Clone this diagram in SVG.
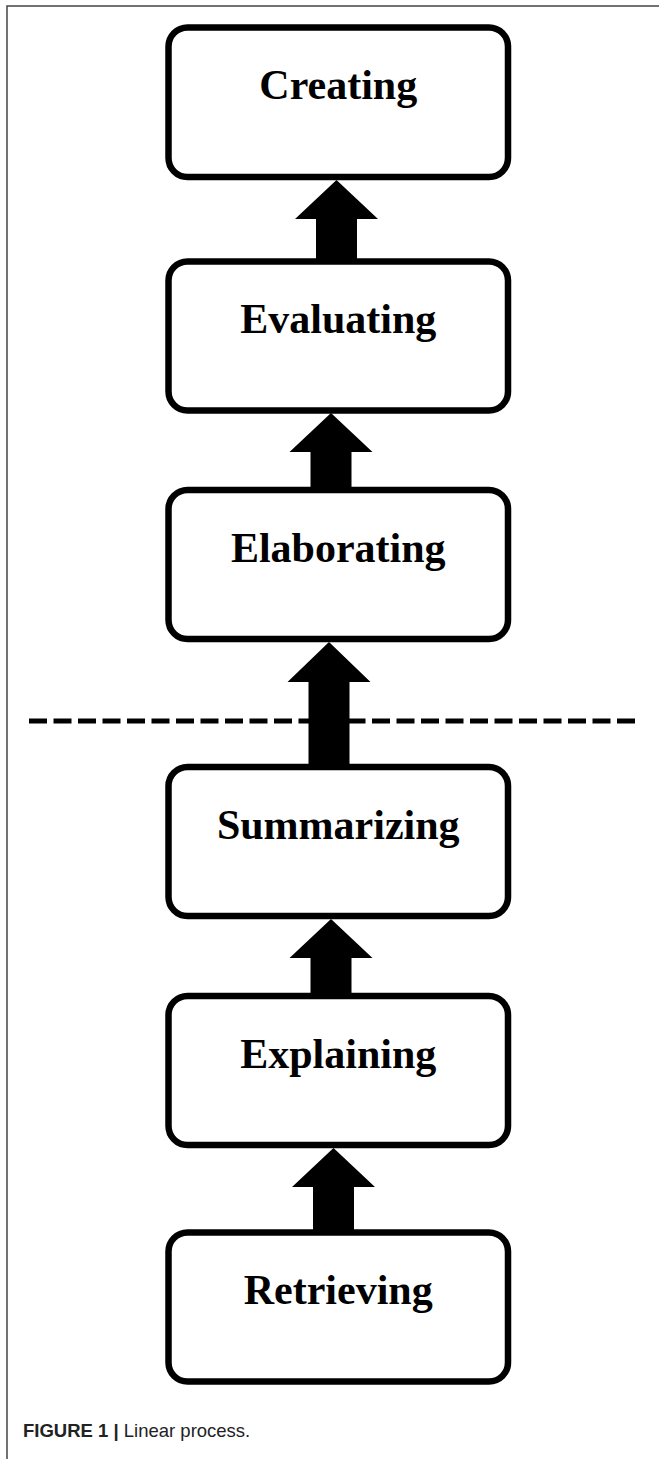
<svg xmlns="http://www.w3.org/2000/svg" width="659" height="1459" viewBox="0 0 659 1459">
  <style>
    .box { fill: #ffffff; stroke: #000000; stroke-width: 6.5; }
    .label { font-family: "Liberation Serif", "Times New Roman", serif; font-weight: bold; font-size: 42px; fill: #000000; text-anchor: middle; }
    .arrow { fill: #000000; stroke: none; }
    .divider { stroke: #000000; stroke-width: 5; stroke-dasharray: 18 6.5; fill: none; }
    .frame { stroke: #444444; stroke-width: 1.5; fill: none; }
    .cap { font-family: "Liberation Sans", Arial, sans-serif; font-size: 18.5px; fill: #222222; }
  </style>
  <rect x="0" y="0" width="659" height="1459" fill="#ffffff"/>
  <path class="frame" d="M7,1459 L7,6 L659,6"/>
  <line class="divider" x1="29" y1="721" x2="637" y2="721"/>
  <g id="nodes">
    <g id="node-creating">
      <rect class="box" x="168.5" y="27.5" width="339.5" height="149.5" rx="19" ry="19"/>
      <text class="label" x="338.25" y="98.5">Creating</text>
    </g>
    <g id="node-evaluating">
      <rect class="box" x="168.5" y="261.5" width="339.5" height="149" rx="19" ry="19"/>
      <text class="label" x="338.25" y="332.5">Evaluating</text>
    </g>
    <g id="node-elaborating">
      <rect class="box" x="168.5" y="490" width="339.5" height="149" rx="19" ry="19"/>
      <text class="label" x="338.25" y="562">Elaborating</text>
    </g>
    <g id="node-summarizing">
      <rect class="box" x="168.5" y="767" width="339.5" height="149" rx="19" ry="19"/>
      <text class="label" x="338.25" y="839">Summarizing</text>
    </g>
    <g id="node-explaining">
      <rect class="box" x="168.5" y="996" width="339.5" height="149" rx="19" ry="19"/>
      <text class="label" x="338.25" y="1068">Explaining</text>
    </g>
    <g id="node-retrieving">
      <rect class="box" x="168.5" y="1232.5" width="339.5" height="149" rx="19" ry="19"/>
      <text class="label" x="338.25" y="1304">Retrieving</text>
    </g>
  </g>
  <g id="connectors">
    <polygon class="arrow" points="336.5,180 378,219 357,219 357,261.5 316,261.5 316,219 295,219"/>
    <polygon class="arrow" points="331,413 372.5,452 351.5,452 351.5,490 310.5,490 310.5,452 289.5,452"/>
    <polygon class="arrow" points="329,642 370.5,682 349.5,682 349.5,767 308.5,767 308.5,682 287.5,682"/>
    <polygon class="arrow" points="331,919 372.5,958 351.5,958 351.5,996 310.5,996 310.5,958 289.5,958"/>
    <polygon class="arrow" points="333.5,1148 375,1187 354,1187 354,1232.5 313,1232.5 313,1187 292,1187"/>
  </g>
  <text class="cap" x="23" y="1437"><tspan font-weight="bold">FIGURE 1 | </tspan>Linear process.</text>
</svg>
